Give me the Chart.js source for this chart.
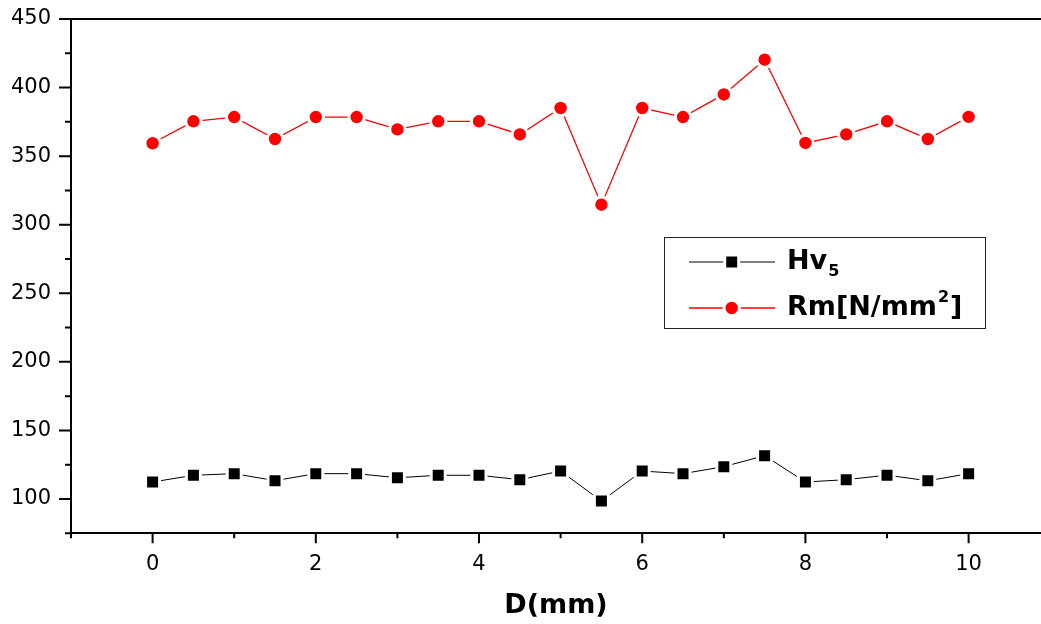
<!DOCTYPE html>
<html><head><meta charset="utf-8">
<script src="https://cdn.jsdelivr.net/npm/chart.js@4.4.0/dist/chart.umd.min.js"></script>
<style>html,body{margin:0;padding:0;background:#fff;overflow:hidden}</style>
</head><body>
<canvas id="c" width="1041" height="624"></canvas>
<script>
// ---- data ----
const depthMm = [0,0.5,1,1.5,2,2.5,3,3.5,4,4.5,5,5.5,6,6.5,7,7.5,8,8.5,9,9.5,10];
const hv5 = [112.4,117.3,118.5,113.4,118.5,118.5,115.5,117.3,117.3,114.1,120.4,98.5,120.4,118.5,123.6,131.6,112.4,114.1,117.4,113.3,118.5];
const rmNmm2 = [359.4,375.4,378.5,362.5,378.5,378.5,369.5,375.4,375.4,365.8,385.1,314.6,385.1,378.5,395.0,420.3,359.6,365.9,375.4,362.5,378.6];
const xMajorTicks = [0,2,4,6,8,10];
const xMinorTicks = [-1,1,3,5,7,9];
const yMajorTicks = [100,150,200,250,300,350,400,450];
const yMinorTicks = [75,125,175,225,275,325,375,425];
const seriesNames = ['Hv', 'Rm[N/mm'];

const FONT = 'DejaVu Sans';

const axisTicks = {
  id: 'axisTicks',
  afterDraw(chart) {
    const {ctx, chartArea: a, scales: {x, y}} = chart;
    ctx.save();
    ctx.strokeStyle = '#000';
    ctx.lineWidth = 2;
    ctx.beginPath();
    // top frame line
    ctx.moveTo(a.left - 1, a.top); ctx.lineTo(chart.width, a.top);
    yMajorTicks.forEach(v => { const p = y.getPixelForValue(v); ctx.moveTo(a.left - 12, p); ctx.lineTo(a.left, p); });
    yMinorTicks.forEach(v => { const p = y.getPixelForValue(v); ctx.moveTo(a.left - 6, p); ctx.lineTo(a.left, p); });
    xMajorTicks.forEach(v => { const p = x.getPixelForValue(v); ctx.moveTo(p, a.bottom); ctx.lineTo(p, a.bottom + 10); });
    xMinorTicks.forEach(v => { const p = x.getPixelForValue(v); ctx.moveTo(p, a.bottom); ctx.lineTo(p, a.bottom + 5); });
    ctx.stroke();
    ctx.restore();
  }
};

const legendBox = {
  id: 'legendBox',
  afterDraw(chart) {
    const ctx = chart.ctx;
    const bx = 664.5, by = 237.5, bw = 321, bh = 91;
    ctx.save();
    ctx.strokeStyle = '#222';
    ctx.lineWidth = 1;
    ctx.strokeRect(bx, by, bw, bh);
    const rows = [262, 308];
    chart.data.datasets.forEach((ds, i) => {
      const ry = rows[i];
      ctx.strokeStyle = ds.borderColor;
      ctx.lineWidth = ds.borderWidth;
      ctx.beginPath(); ctx.moveTo(689, ry); ctx.lineTo(775, ry); ctx.stroke();
      ctx.fillStyle = ds.pointBackgroundColor;
      ctx.strokeStyle = ds.pointBorderColor;
      ctx.lineWidth = ds.pointBorderWidth;
      ctx.beginPath();
      if (ds.pointStyle === 'rect') {
        const s = Math.SQRT1_2 * ds.pointRadius;
        ctx.rect(731.7 - s, ry - s, 2 * s, 2 * s);
      } else {
        ctx.arc(731.7, ry, ds.pointRadius, 0, Math.PI * 2);
      }
      ctx.fill(); ctx.stroke();
      ctx.fillStyle = '#000';
      ctx.textBaseline = 'middle';
      ctx.textAlign = 'left';
      ctx.font = 'bold 27px "' + FONT + '"';
      const main = seriesNames[i];
      ctx.fillText(main, 787, ry);
      const w = ctx.measureText(main).width;
      ctx.font = 'bold 16px "' + FONT + '"';
      if (i === 0) {
        ctx.fillText('5', 787 + w + 1, ry + 10);
      } else {
        ctx.fillText('2', 787 + w + 1, ry - 10);
        const w2 = ctx.measureText('2').width;
        ctx.font = 'bold 27px "' + FONT + '"';
        ctx.fillText(']', 787 + w + w2 + 2, ry);
      }
    });
    ctx.restore();
  }
};

new Chart(document.getElementById('c'), {
  type: 'scatter',
  data: {
    datasets: [
      {
        label: 'Hv5',
        data: depthMm.map((d, i) => ({x: d, y: hv5[i]})),
        showLine: true, borderColor: '#000', borderWidth: 1,
        pointStyle: 'rect', pointRadius: 9.9, pointBorderWidth: 3,
        pointBackgroundColor: '#000', pointBorderColor: '#fff', tension: 0
      },
      {
        label: 'Rm[N/mm2]',
        data: depthMm.map((d, i) => ({x: d, y: rmNmm2[i]})),
        showLine: true, borderColor: '#ff0000', borderWidth: 1.3,
        pointStyle: 'circle', pointRadius: 7.7, pointBorderWidth: 3,
        pointBackgroundColor: '#ff0000', pointBorderColor: '#fff', tension: 0
      }
    ]
  },
  options: {
    responsive: false,
    devicePixelRatio: 1,
    animation: false,
    layout: {autoPadding: false, padding: {top: 19, left: 0, right: 0, bottom: 0}},
    plugins: {legend: {display: false}, tooltip: {enabled: false}},
    scales: {
      x: {
        type: 'linear', position: 'bottom', min: -1, max: 10.887,
        afterFit(s) { s.height = 90.7; s.paddingLeft = 0; s.paddingRight = 0; },
        afterBuildTicks(s) { s.ticks = xMajorTicks.map(v => ({value: v})); },
        grid: {display: false, drawTicks: false},
        border: {display: true, width: 2, color: '#000'},
        ticks: {font: {family: FONT, size: 21}, color: '#000', padding: 19, maxRotation: 0, autoSkip: false},
        title: {display: true, text: 'D(mm)', color: '#000',
          font: {family: FONT, size: 27, weight: 'bold', lineHeight: 1.2},
          padding: {top: 0, bottom: 2}}
      },
      y: {
        type: 'linear', min: 75, max: 450,
        afterFit(s) { s.width = 71; s.paddingTop = 0; s.paddingBottom = 0; },
        afterBuildTicks(s) { s.ticks = yMajorTicks.map(v => ({value: v})); },
        grid: {display: false, drawTicks: false},
        border: {display: true, width: 2, color: '#000'},
        ticks: {font: {family: FONT, size: 21}, color: '#000', padding: 20}
      }
    }
  },
  plugins: [axisTicks, legendBox]
});
</script>
</body></html>
